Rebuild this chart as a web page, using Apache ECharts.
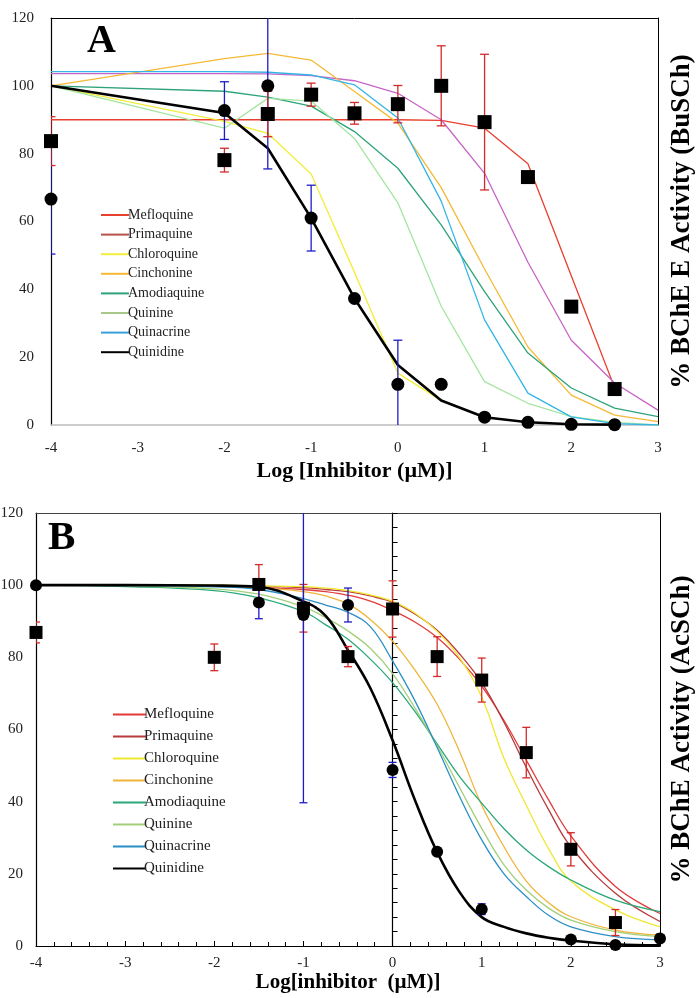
<!DOCTYPE html>
<html>
<head>
<meta charset="utf-8">
<script src="https://cdn.jsdelivr.net/npm/echarts@6/dist/echarts.min.js"></script>
<style>
  html, body { margin: 0; padding: 0; background: #fff; }
  #chart { width: 699px; height: 998px; }
</style>
</head>
<body>
<div id="chart"></div>
<script>
const FONT = '"Liberation Serif", "Times New Roman", serif';
const drugs = ['Mefloquine', 'Primaquine', 'Chloroquine', 'Cinchonine', 'Amodiaquine', 'Quinine', 'Quinacrine', 'Quinidine'];
const xTicks = [-4, -3, -2, -1, 0, 1, 2, 3];
const yTicks = [0, 20, 40, 60, 80, 100, 120];

// ---- panel A (BuSCh), straight segments between points
const xA = [-4, -2, -1.5, -1, -0.5, 0, 0.5, 1, 1.5, 2, 2.5, 3];
const mefloA = [90, 90, 90, 90, 90, 90, 89.8, 87.5, 77, 44, 11, null];
const primaA = [103.6, 103.6, 103.5, 103, 101.5, 97.8, 90, 74.2, 48, 25, 12.4, 4.4];
const chloroA = [100, 89.5, 86, 74, 45, 15.3, 7.2, 2.3, 0.8, 0.2, 0.1, null];
const cinchA = [100, 108, 109.6, 107.6, 98.3, 89, 70, 46, 23, 8.8, 2.9, 1];
const amodiaA = [100, 98.4, 96.7, 94, 86.5, 75.7, 59, 39.3, 21.2, 10.9, 5, 2.5];
const quinineA = [100, 87.5, 96.3, 95.5, 84.5, 65.5, 35, 12.8, 6.4, 2.5, 0.8, 0];
const quinacA = [104.2, 104.2, 104, 103.2, 100.3, 90.5, 66, 31, 9.4, 2.4, 0.4, 0];
const quinidA = [100, 92, 81.6, 61, 37.3, 17.7, 7.2, 2.3, 0.8, 0.2, 0.1, null];

const sqAx = [-4, -2, -1.5, -1, -0.5, 0, 0.5, 1, 1.5, 2, 2.5];
const sqAy = [83.7, 78.1, 91.7, 97.4, 91.9, 94.6, 100, 89.3, 73.1, 34.9, 10.6];
const sqAerr = [7.2, 3.5, 6.7, 3.4, 3.2, 5.5, 11.8, 20, 0, 0, 0];
const dotAx = [-4, -2, -1.5, -1, -0.5, 0, 0.5, 1, 1.5, 2, 2.5];
const dotAy = [66.6, 92.7, 100, 61, 37.3, 12, 12, 2.3, 0.8, 0.2, 0.1];
const dotAerr = [16.2, 8.5, 24.5, 9.7, 0, 13, 0, 0, 0, 0, 0];

// ---- panel B (AcSCh), fitted sigmoids
const xB = [-4, -3, -2, -1.5, -1, -0.75, -0.5, -0.25, 0, 0.25, 0.5, 0.75, 1, 1.25, 1.5, 1.75, 2, 2.5, 3];
const mefloB = [100, 100, 99.7, 99.4, 98.8, 98.2, 97.2, 95.6, 93, 89.8, 85.5, 79.5, 72, 62.5, 51.5, 40.5, 30.5, 16.5, 9];
const primaB = [100, 100, 99.9, 99.7, 99.3, 98.8, 98.2, 97, 95.3, 92, 87.5, 81, 73, 62, 49.5, 37.8, 27.5, 14.6, 6.8];
const chloroB = [100, 100, 100, 99.8, 99.6, 99.2, 98.5, 97.3, 95.5, 92.3, 87.2, 80, 69, 52, 39, 27, 18, 10, 5.3];
const cinchB = [100, 100, 99.8, 99.3, 98.2, 97, 94.8, 90.5, 84.5, 76.5, 67, 54, 39, 27.5, 18, 12, 8.1, 4.4, 3];
const amodiaB = [100, 99.6, 98.5, 96.5, 92.7, 89, 85, 79.5, 73, 65, 56, 47, 39.6, 32.5, 26.6, 22, 18.3, 12.7, 9.5];
const quinineB = [100, 99.8, 99, 97.5, 94, 91, 87.3, 82.5, 75.5, 66, 55.5, 44, 32.6, 22.5, 15.5, 10.5, 7.2, 4, 2.6];
const quinacB = [100, 99.9, 99.5, 98.8, 96.3, 94.5, 92.5, 88.5, 79, 68, 55, 41.5, 29.4, 20, 13.7, 8.5, 5.3, 2.6, 1.7];
const quinidB = [100, 100, 99.9, 99.5, 95.5, 91.5, 82, 71.5, 57, 40.5, 26, 15, 8, 5.3, 3.5, 2.3, 1.5, 0.5, 0.2];

const sqBx = [-4, -2, -1.5, -1, -0.5, 0, 0.5, 1, 1.5, 2, 2.5];
const sqBy = [86.9, 80, 100.2, 93.6, 80.2, 93.4, 80.2, 73.7, 53.6, 26.8, 6.5];
const sqBerr = [2.9, 3.7, 5.5, 6.6, 2.8, 7.8, 5.5, 6.1, 7, 4.6, 3.6];
const dotBx = [-4, -1.5, -1, -0.5, 0, 0.5, 1, 2, 2.5, 3];
const dotBy = [100, 95.2, 91.7, 94.5, 48.8, 26.1, 10.2, 1.8, 0.3, 2.1];
const dotBerr = [0, 4.5, 52, 4.7, 2.1, 0, 1.5, 0, 0, 1.2];

const colorsA = ['#e8402f', '#c864c8', '#f2ee3a', '#f5b936', '#2ea37a', '#a4e6a0', '#33b5e5', '#000000'];
const legendColorsA = ['#e8402f', '#b9504b', '#f2ee3a', '#f5b936', '#2ea37a', '#a8c88a', '#3aa0d8', '#000000'];
const colorsB = ['#e23a3a', '#b83a3a', '#f0e830', '#f0b43c', '#2aa878', '#a2cf78', '#2b8fc4', '#000000'];

const curvesA = [mefloA, primaA, chloroA, cinchA, amodiaA, quinineA, quinacA, quinidA];
const curvesB = [mefloB, primaB, chloroB, cinchB, amodiaB, quinineB, quinacB, quinidB];

function pairs(xs, ys) {
    return xs.map((x, i) => [x, ys[i]]).filter(d => d[1] != null);
}

function curve(name, xs, ys, color, panel) {
    return {
        type: 'line', name: name,
        xAxisIndex: panel * 2, yAxisIndex: panel * 2,
        data: pairs(xs, ys),
        symbol: 'none',
        smooth: panel === 1 ? 0.4 : false,
        lineStyle: { color: color, width: name === 'Quinidine' ? 2.6 : 1.3 },
        itemStyle: { color: color },
        z: name === 'Quinidine' ? 3 : 2,
        silent: true
    };
}

function errorBars(xs, ys, errs, color, panel, cap) {
    return {
        type: 'custom',
        xAxisIndex: panel * 2, yAxisIndex: panel * 2,
        clip: true,
        z: 4,
        silent: true,
        data: xs.map((x, i) => [x, ys[i], errs[i]]).filter(d => d[2] > 0),
        encode: { x: 0, y: 1 },
        renderItem: function (params, api) {
            const x = api.value(0), y = api.value(1), e = api.value(2);
            const lo = api.coord([x, y - e]);
            const hi = api.coord([x, y + e]);
            const st = { stroke: color, lineWidth: 1.3 };
            return {
                type: 'group',
                children: [
                    { type: 'line', shape: { x1: lo[0], y1: lo[1], x2: hi[0], y2: hi[1] }, style: st },
                    { type: 'line', shape: { x1: lo[0] - cap, y1: lo[1], x2: lo[0] + cap, y2: lo[1] }, style: st },
                    { type: 'line', shape: { x1: hi[0] - cap, y1: hi[1], x2: hi[0] + cap, y2: hi[1] }, style: st }
                ]
            };
        }
    };
}

function markers(xs, ys, shape, size, panel) {
    return {
        type: 'scatter',
        xAxisIndex: panel * 2, yAxisIndex: panel * 2,
        data: pairs(xs, ys),
        symbol: shape,
        symbolSize: size,
        itemStyle: { color: '#000', opacity: 1 },
        z: 5,
        silent: true
    };
}

const series = [];
drugs.forEach((d, i) => series.push(curve(d, xA, curvesA[i], colorsA[i], 0)));
series.push(errorBars(dotAx, dotAy, dotAerr, '#1c1cc8', 0, 4.5));
series.push(errorBars(sqAx, sqAy, sqAerr, '#d42a2a', 0, 4.5));
series.push(markers(sqAx, sqAy, 'rect', 14, 0));
series.push(markers(dotAx, dotAy, 'circle', 13, 0));
drugs.forEach((d, i) => series.push(curve(d, xB, curvesB[i], colorsB[i], 1)));
series.push(errorBars(sqBx, sqBy, sqBerr, '#d42a2a', 1, 4));
series.push(errorBars(dotBx, dotBy, dotBerr, '#1c1cc8', 1, 4));
series.push(markers(sqBx, sqBy, 'rect', 13, 1));
series.push(markers(dotBx, dotBy, 'circle', 12, 1));

const tickFont = { fontFamily: FONT, fontSize: 15, color: '#222' };
const titleFont = { fontFamily: FONT, fontSize: 22, fontWeight: 'bold', color: '#000' };
const sideFont = { fontFamily: FONT, fontSize: 27, fontWeight: 'bold', color: '#000' };

function borderAxis(grid, pos, extra) {
    return Object.assign({
        type: 'value', gridIndex: grid, position: pos,
        axisLine: { show: true, onZero: false, lineStyle: { color: '#000', width: 1 } },
        axisTick: { show: false }, axisLabel: { show: false }, splitLine: { show: false }
    }, extra);
}

const option = {
    backgroundColor: '#fff',
    animation: false,
    title: [
        { text: 'A', left: 87, top: 22, padding: 0, textStyle: { fontFamily: FONT, fontSize: 40, fontWeight: 'bold', color: '#000' } },
        { text: 'B', left: 48, top: 518, padding: 0, textStyle: { fontFamily: FONT, fontSize: 41, fontWeight: 'bold', color: '#000' } }
    ],
    legend: [
        {
            data: drugs.map((n, i) => ({ name: n, lineStyle: { color: legendColorsA[i] } })),
            orient: 'vertical', left: 95, top: 203,
            itemWidth: 28, itemHeight: 14, itemGap: 5.6,
            selectedMode: false,
            itemStyle: { color: 'rgba(0,0,0,0)', borderWidth: 0 },
            textStyle: { fontFamily: FONT, fontSize: 14, color: '#222', padding: [0, 0, 0, -6] }
        },
        {
            data: drugs.map((n, i) => ({ name: n, lineStyle: { color: colorsB[i] } })),
            orient: 'vertical', left: 107, top: 702,
            itemWidth: 33, itemHeight: 14, itemGap: 7,
            selectedMode: false,
            itemStyle: { color: 'rgba(0,0,0,0)', borderWidth: 0 },
            textStyle: { fontFamily: FONT, fontSize: 15, color: '#222', padding: [0, 0, 0, -7] }
        }
    ],
    grid: [
        { left: 51, top: 18, width: 607, height: 407, outerBoundsMode: 'none' },
        { left: 36, top: 513, width: 624, height: 433, outerBoundsMode: 'none' }
    ],
    xAxis: [
        {
            type: 'value', gridIndex: 0, position: 'bottom',
            min: xTicks[0], max: xTicks[xTicks.length - 1], interval: 1,
            axisLine: { lineStyle: { color: '#bdbdbd', width: 1.6 } },
            axisTick: { show: false },
            axisLabel: Object.assign({ margin: 16, showMinLabel: true, showMaxLabel: true }, tickFont),
            splitLine: { show: false },
            name: 'Log [Inhibitor (\u00b5M)]', nameLocation: 'middle', nameGap: 35,
            nameTextStyle: titleFont
        },
        borderAxis(0, 'top', { min: xTicks[0], max: xTicks[xTicks.length - 1] }),
        {
            type: 'value', gridIndex: 1, position: 'bottom',
            min: xTicks[0], max: xTicks[xTicks.length - 1], interval: 1,
            axisLine: { lineStyle: { color: '#000', width: 1.2 } },
            axisTick: { show: true, inside: true, length: 5, lineStyle: { color: '#000' } },
            minorTick: { show: true, splitNumber: 5, length: 4, lineStyle: { color: '#000' } },
            axisLabel: Object.assign({ margin: 10, showMinLabel: true, showMaxLabel: true }, tickFont),
            splitLine: { show: false },
            name: 'Log[inhibitor  (\u00b5M)]', nameLocation: 'middle', nameGap: 26,
            nameTextStyle: Object.assign({}, titleFont, { fontSize: 21 })
        },
        borderAxis(1, 'top', { min: xTicks[0], max: xTicks[xTicks.length - 1], axisLine: { show: true, onZero: false, lineStyle: { color: '#444', width: 1 } } })
    ],
    yAxis: [
        {
            type: 'value', gridIndex: 0, position: 'left',
            min: yTicks[0], max: yTicks[yTicks.length - 1], interval: 20,
            axisLine: { show: true, onZero: false, lineStyle: { color: '#000', width: 1.2 } },
            axisTick: { show: false },
            axisLabel: Object.assign({ margin: 17, showMinLabel: true, showMaxLabel: true }, tickFont),
            splitLine: { show: false }
        },
        borderAxis(0, 'right', {
            min: yTicks[0], max: yTicks[yTicks.length - 1],
            name: '% BChE E Activity (BuSCh)', nameLocation: 'middle', nameRotate: 90, nameGap: 11,
            nameTextStyle: sideFont
        }),
        {
            type: 'value', gridIndex: 1, position: 'left',
            min: yTicks[0], max: yTicks[yTicks.length - 1], interval: 20,
            axisLine: { show: true, onZero: false, lineStyle: { color: '#000', width: 1.2 } },
            axisTick: { show: false },
            axisLabel: Object.assign({ margin: 13, showMinLabel: true, showMaxLabel: true }, tickFont),
            splitLine: { show: false }
        },
        borderAxis(1, 'right', {
            min: yTicks[0], max: yTicks[yTicks.length - 1],
            name: '% BChE Activity (AcSCh)', nameLocation: 'middle', nameRotate: 90, nameGap: 9,
            nameTextStyle: sideFont
        }),
        {
            type: 'value', gridIndex: 1, position: 'left',
            min: yTicks[0], max: yTicks[yTicks.length - 1], interval: 20,
            axisLine: { show: true, onZero: true, lineStyle: { color: '#000', width: 1.2 } },
            axisTick: { show: true, inside: true, length: 5, lineStyle: { color: '#000' } },
            minorTick: { show: true, splitNumber: 5, length: 5, lineStyle: { color: '#000' } },
            axisLabel: { show: false },
            splitLine: { show: false }
        }
    ],
    series: series
};

const myChart = echarts.init(document.getElementById('chart'), null, { renderer: 'canvas' });
myChart.setOption(option);
window.addEventListener('resize', () => myChart.resize());
</script>
</body>
</html>
